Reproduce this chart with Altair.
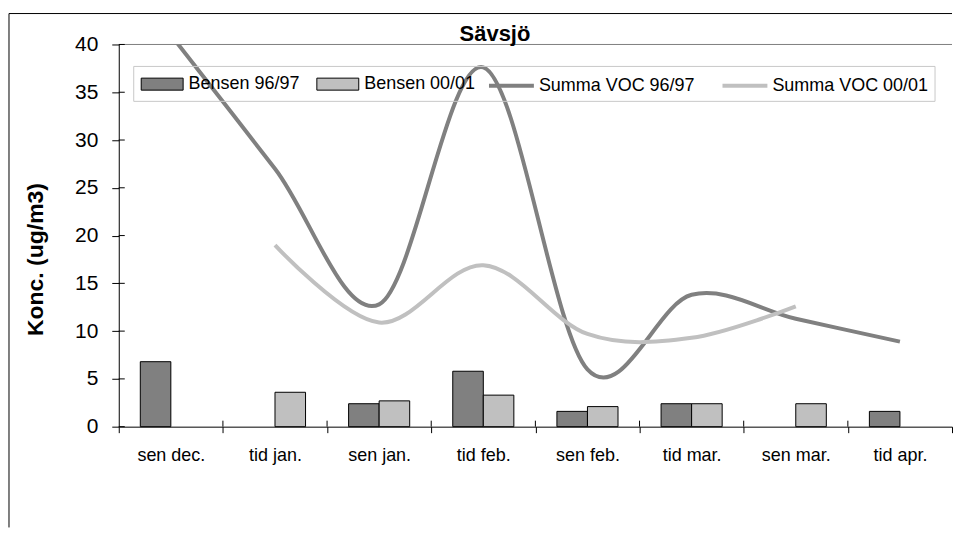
import altair as alt
import pandas as pd

categories = ["sen dec.", "tid jan.", "sen jan.", "tid feb.", "sen feb.", "tid mar.", "sen mar.", "tid apr."]
bensen_9697 = [6.8, None, 2.4, 5.8, 1.6, 2.4, None, 1.6]
bensen_0001 = [None, 3.6, 2.7, 3.3, 2.1, 2.4, 2.4, None]
voc_9697 = [41.0, 27.0, 12.8, 37.6, 6.0, 13.8, 11.3, 8.9]
voc_0001 = [None, 19.0, 10.9, 16.9, 9.7, 9.3, 12.6, None]
bar_series = ["Bensen 96/97", "Bensen 00/01"]
line_series = ["Summa VOC 96/97", "Summa VOC 00/01"]
y_ticks = [0, 5, 10, 15, 20, 25, 30, 35, 40]
chart_title = ["Sävsjö"]

FONT = "Liberation Sans"
W, H = 835, 383

bars = pd.DataFrame(
    [{"cat": c, "serie": bar_series[0], "v": v} for c, v in zip(categories, bensen_9697)]
    + [{"cat": c, "serie": bar_series[1], "v": v} for c, v in zip(categories, bensen_0001)]
)
lines = pd.DataFrame(
    [{"cat": c, "serie": line_series[0], "v": v} for c, v in zip(categories, voc_9697)]
    + [{"cat": c, "serie": line_series[1], "v": v} for c, v in zip(categories, voc_0001)]
)
ytick_df = pd.DataFrame({"v": y_ticks})
xtick_df = pd.DataFrame({"cat": categories[1:]})

x_enc = alt.X(
    "cat:N", sort=categories,
    scale=alt.Scale(paddingInner=0, paddingOuter=0),
    axis=alt.Axis(title=None, labelAngle=0, labelFont=FONT, labelFontSize=18, labelColor="black",
                  tickBand="extent", tickSize=6, tickColor="black", domainColor="black",
                  labelPadding=14),
)
y_enc = alt.Y(
    "v:Q", scale=alt.Scale(domain=[0, 40], nice=False),
    axis=alt.Axis(values=y_ticks, grid=False, labelFont=FONT, labelFontSize=21, labelColor="black",
                  tickSize=7, tickColor="black", domainColor="black", labelPadding=14,
                  title="Konc. (ug/m3)", titleFont=FONT, titleFontSize=23, titleFontWeight="bold",
                  titleColor="black", titleAngle=-90, titleX=-76, titleY=215,
                  titleBaseline="alphabetic", titleAlign="center"),
)

bar_layer = alt.Chart(bars).mark_bar(stroke="black", strokeWidth=1, opacity=1).encode(
    x=x_enc,
    y=y_enc,
    xOffset=alt.XOffset("serie:N", sort=bar_series,
                        scale=alt.Scale(domain=bar_series, paddingInner=0, paddingOuter=0.705)),
    color=alt.Color("serie:N", sort=bar_series,
                    scale=alt.Scale(domain=bar_series, range=["#808080", "#C0C0C0"]),
                    legend=alt.Legend(orient="none", legendX=22, legendY=18, direction="horizontal",
                                      title=None, padding=0,
                                      symbolType="M-1,-0.2857L1,-0.2857L1,0.2857L-1,0.2857Z",
                                      symbolSize=1764, symbolStrokeColor="black", symbolStrokeWidth=1,
                                      symbolOpacity=1,
                                      labelFont=FONT, labelFontSize=18, labelColor="black",
                                      labelOffset=5, columnPadding=14, labelLimit=300)),
)

line_layer = alt.Chart(lines).mark_line(interpolate="cardinal", tension=0, strokeWidth=4, clip=True).encode(
    x=alt.X("cat:N", sort=categories),
    y=alt.Y("v:Q"),
    color=alt.Color("serie:N", sort=line_series,
                    scale=alt.Scale(domain=line_series, range=["#808080", "#C0C0C0"]),
                    legend=alt.Legend(orient="none", legendX=369, legendY=16.5, direction="horizontal",
                                      title=None, padding=0, symbolType="stroke", symbolSize=2025,
                                      symbolStrokeWidth=4, symbolOpacity=1,
                                      labelFont=FONT, labelFontSize=18, labelColor="black",
                                      labelOffset=3, columnPadding=19, labelLimit=300)),
)

# inner halves of the crossing tick marks
ytick_inner = alt.Chart(ytick_df).mark_rule(color="black", strokeWidth=1).encode(
    y=alt.Y("v:Q"), x=alt.value(0), x2=alt.value(6)
)
xtick_inner = alt.Chart(xtick_df).mark_rule(color="black", strokeWidth=1).encode(
    x=alt.X("cat:N", sort=categories, bandPosition=0), y=alt.value(H - 6), y2=alt.value(H)
)

one = pd.DataFrame({"a": [0]})
title_df = pd.DataFrame({"t": chart_title})
title_layer = alt.Chart(title_df).mark_text(font=FONT, fontSize=22, fontWeight="bold", color="black",
                                             baseline="alphabetic", align="center").encode(
    text="t:N", x=alt.value(377), y=alt.value(-3)
)
legend_box = alt.Chart(one).mark_rect(fill=None, stroke="#C8C8C8", strokeWidth=1).encode(
    x=alt.value(15), x2=alt.value(818), y=alt.value(22), y2=alt.value(57)
)
plot_top = alt.Chart(one).mark_rule(color="#808080", strokeWidth=1).encode(
    x=alt.value(0), x2=alt.value(W), y=alt.value(0)
)
border_left = alt.Chart(one).mark_rule(color="black", strokeWidth=1).encode(
    x=alt.value(-110), y=alt.value(-31), y2=alt.value(484)
)
border_top = alt.Chart(one).mark_rule(color="black", strokeWidth=1).encode(
    x=alt.value(-110), x2=alt.value(W), y=alt.value(-31)
)

chart = alt.layer(plot_top, bar_layer, line_layer, ytick_inner, xtick_inner, legend_box, title_layer,
                  border_left, border_top).resolve_scale(
    color="independent"
).properties(
    width=W, height=H,
    padding={"left": 0, "top": 4, "right": 0, "bottom": 0},
).configure(background="white", view=alt.ViewConfig(stroke=None))

chart.save("out.html", embed_options={"renderer": "svg", "actions": False})
